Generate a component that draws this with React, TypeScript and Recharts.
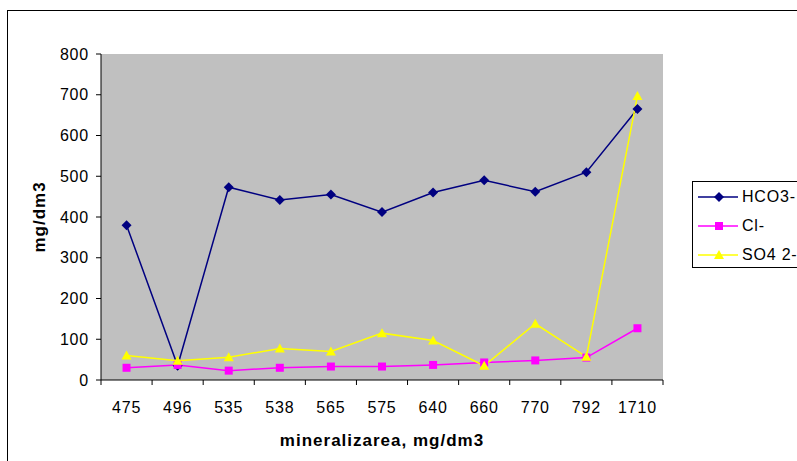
import React from 'react';
import {
  LineChart,
  Line,
  XAxis,
  YAxis,
  CartesianGrid,
} from 'recharts';

// Data
const MINERALIZATION = ['475', '496', '535', '538', '565', '575', '640', '660', '770', '792', '1710'];
const HCO3 = [380, 35, 473, 442, 455, 412, 460, 490, 462, 510, 665];
const CL = [30, 37, 23, 30, 33, 33, 37, 43, 48, 55, 127];
const SO4 = [60, 47, 56, 77, 70, 115, 97, 35, 138, 57, 697];
const Y_TICKS = [0, 100, 200, 300, 400, 500, 600, 700, 800];

const DATA = MINERALIZATION.map((name, i) => ({
  name,
  hco3: HCO3[i],
  cl: CL[i],
  so4: SO4[i],
}));

const W = 797;
const H = 461;
const M = { top: 54, right: 134, left: 0, bottom: 0 };
const Y_AXIS_W = 101;
const X_AXIS_H = 81;
const PLOT_W = W - M.right - Y_AXIS_W;
const AXIS_Y = H - X_AXIS_H;
const FONT = '"Liberation Sans", Arial, sans-serif';

const NAVY = '#000080';
const MAGENTA = '#FF00FF';
const YELLOW = '#FFFF00';

const Diamond = ({ cx, cy }: any) => (
  <path d={`M${cx},${cy - 5} L${cx + 5},${cy} L${cx},${cy + 5} L${cx - 5},${cy} Z`} fill={NAVY} />
);
const Square = ({ cx, cy }: any) => (
  <rect x={cx - 4} y={cy - 4} width={8} height={8} fill={MAGENTA} />
);
const Triangle = ({ cx, cy }: any) => (
  <path d={`M${cx},${cy - 5} L${cx + 5},${cy + 4} L${cx - 5},${cy + 4} Z`} fill={YELLOW} />
);

// category labels centred, tick marks on the category boundaries
const XTick = ({ x, payload, index }: any) => {
  const bw = PLOT_W / MINERALIZATION.length;
  const last = index === MINERALIZATION.length - 1;
  return (
    <g>
      <line x1={x - bw / 2} x2={x - bw / 2} y1={AXIS_Y} y2={AXIS_Y + 5} stroke="#000" />
      {last && <line x1={x + bw / 2} x2={x + bw / 2} y1={AXIS_Y} y2={AXIS_Y + 5} stroke="#000" />}
      <text x={x} y={AXIS_Y + 33} textAnchor="middle" fontSize={16} letterSpacing={0.8} fontFamily={FONT} fill="#000">
        {payload.value}
      </text>
    </g>
  );
};

const YTitle = ({ viewBox }: any) => {
  const cx = viewBox.x + 39;
  const cy = viewBox.y + viewBox.height / 2;
  return (
    <text
      x={cx}
      y={cy}
      transform={`rotate(-90 ${cx} ${cy})`}
      textAnchor="middle"
      dominantBaseline="central"
      fontFamily={FONT}
      fontSize={17}
      fontWeight="bold"
      letterSpacing={1}
      fill="#000"
    >
      mg/dm3
    </text>
  );
};

const LEGEND_ITEMS = [
  { label: 'HCO3-', color: NAVY, Marker: Diamond },
  { label: 'Cl-', color: MAGENTA, Marker: Square },
  { label: 'SO4 2-', color: YELLOW, Marker: Triangle },
];

const LegendBox = () => (
  <div
    style={{
      position: 'absolute',
      left: 692,
      top: 181,
      border: '1px solid #000',
      background: '#fff',
      width: 120,
      height: 87,
      boxSizing: 'border-box',
      fontFamily: FONT,
      fontSize: 16,
      letterSpacing: 0.8,
    }}
  >
    {LEGEND_ITEMS.map(({ label, color, Marker }) => (
      <div key={label} style={{ display: 'flex', alignItems: 'center', height: 29 }}>
        <svg width={48} height={14}>
          <line x1={5} x2={45} y1={7} y2={7} stroke={color} strokeWidth={1.5} />
          <Marker cx={26} cy={7} />
        </svg>
        <span style={{ marginLeft: 1 }}>{label}</span>
      </div>
    ))}
  </div>
);

export default function App() {
  return (
    <div style={{ position: 'absolute', left: 0, top: 0, width: W, height: H, overflow: 'hidden', background: '#fff' }}>
      <div
        style={{
          position: 'absolute',
          left: 7,
          top: 10,
          width: W,
          height: H,
          border: '1.5px solid #000',
          boxSizing: 'border-box',
        }}
      />
      <div style={{ position: 'absolute', left: 0, top: 0 }}>
        <LineChart width={W} height={H} data={DATA} margin={M}>
          <CartesianGrid horizontal={false} vertical={false} fill="#C0C0C0" />
          <XAxis
            dataKey="name"
            scale="band"
            height={X_AXIS_H}
            stroke="#000"
            tickLine={false}
            tick={<XTick />}
            interval={0}
            label={{
              value: 'mineralizarea, mg/dm3',
              position: 'insideBottom',
              offset: 15,
              style: { fontFamily: FONT, fontSize: 17, fontWeight: 'bold', letterSpacing: 1, fill: '#000' },
            }}
          />
          <XAxis xAxisId="top" orientation="top" dataKey="name" height={0} tick={false} tickLine={false} stroke="#808080" />
          <YAxis
            width={Y_AXIS_W}
            domain={[0, 800]}
            ticks={Y_TICKS}
            interval={0}
            stroke="#000"
            tickSize={5}
            tickMargin={7}
            tick={{ fontFamily: FONT, fontSize: 16, letterSpacing: 0.8, fill: '#000' }}
            label={<YTitle />}
          />
          <YAxis yAxisId="right" orientation="right" width={0} domain={[0, 800]} tick={false} tickLine={false} stroke="#808080" />
          <Line dataKey="hco3" name="HCO3-" stroke={NAVY} strokeWidth={1.5} dot={<Diamond />} activeDot={false} isAnimationActive={false} />
          <Line dataKey="cl" name="Cl-" stroke={MAGENTA} strokeWidth={1.5} dot={<Square />} activeDot={false} isAnimationActive={false} />
          <Line dataKey="so4" name="SO4 2-" stroke={YELLOW} strokeWidth={1.5} dot={<Triangle />} activeDot={false} isAnimationActive={false} />
        </LineChart>
      </div>
      <LegendBox />
    </div>
  );
}
